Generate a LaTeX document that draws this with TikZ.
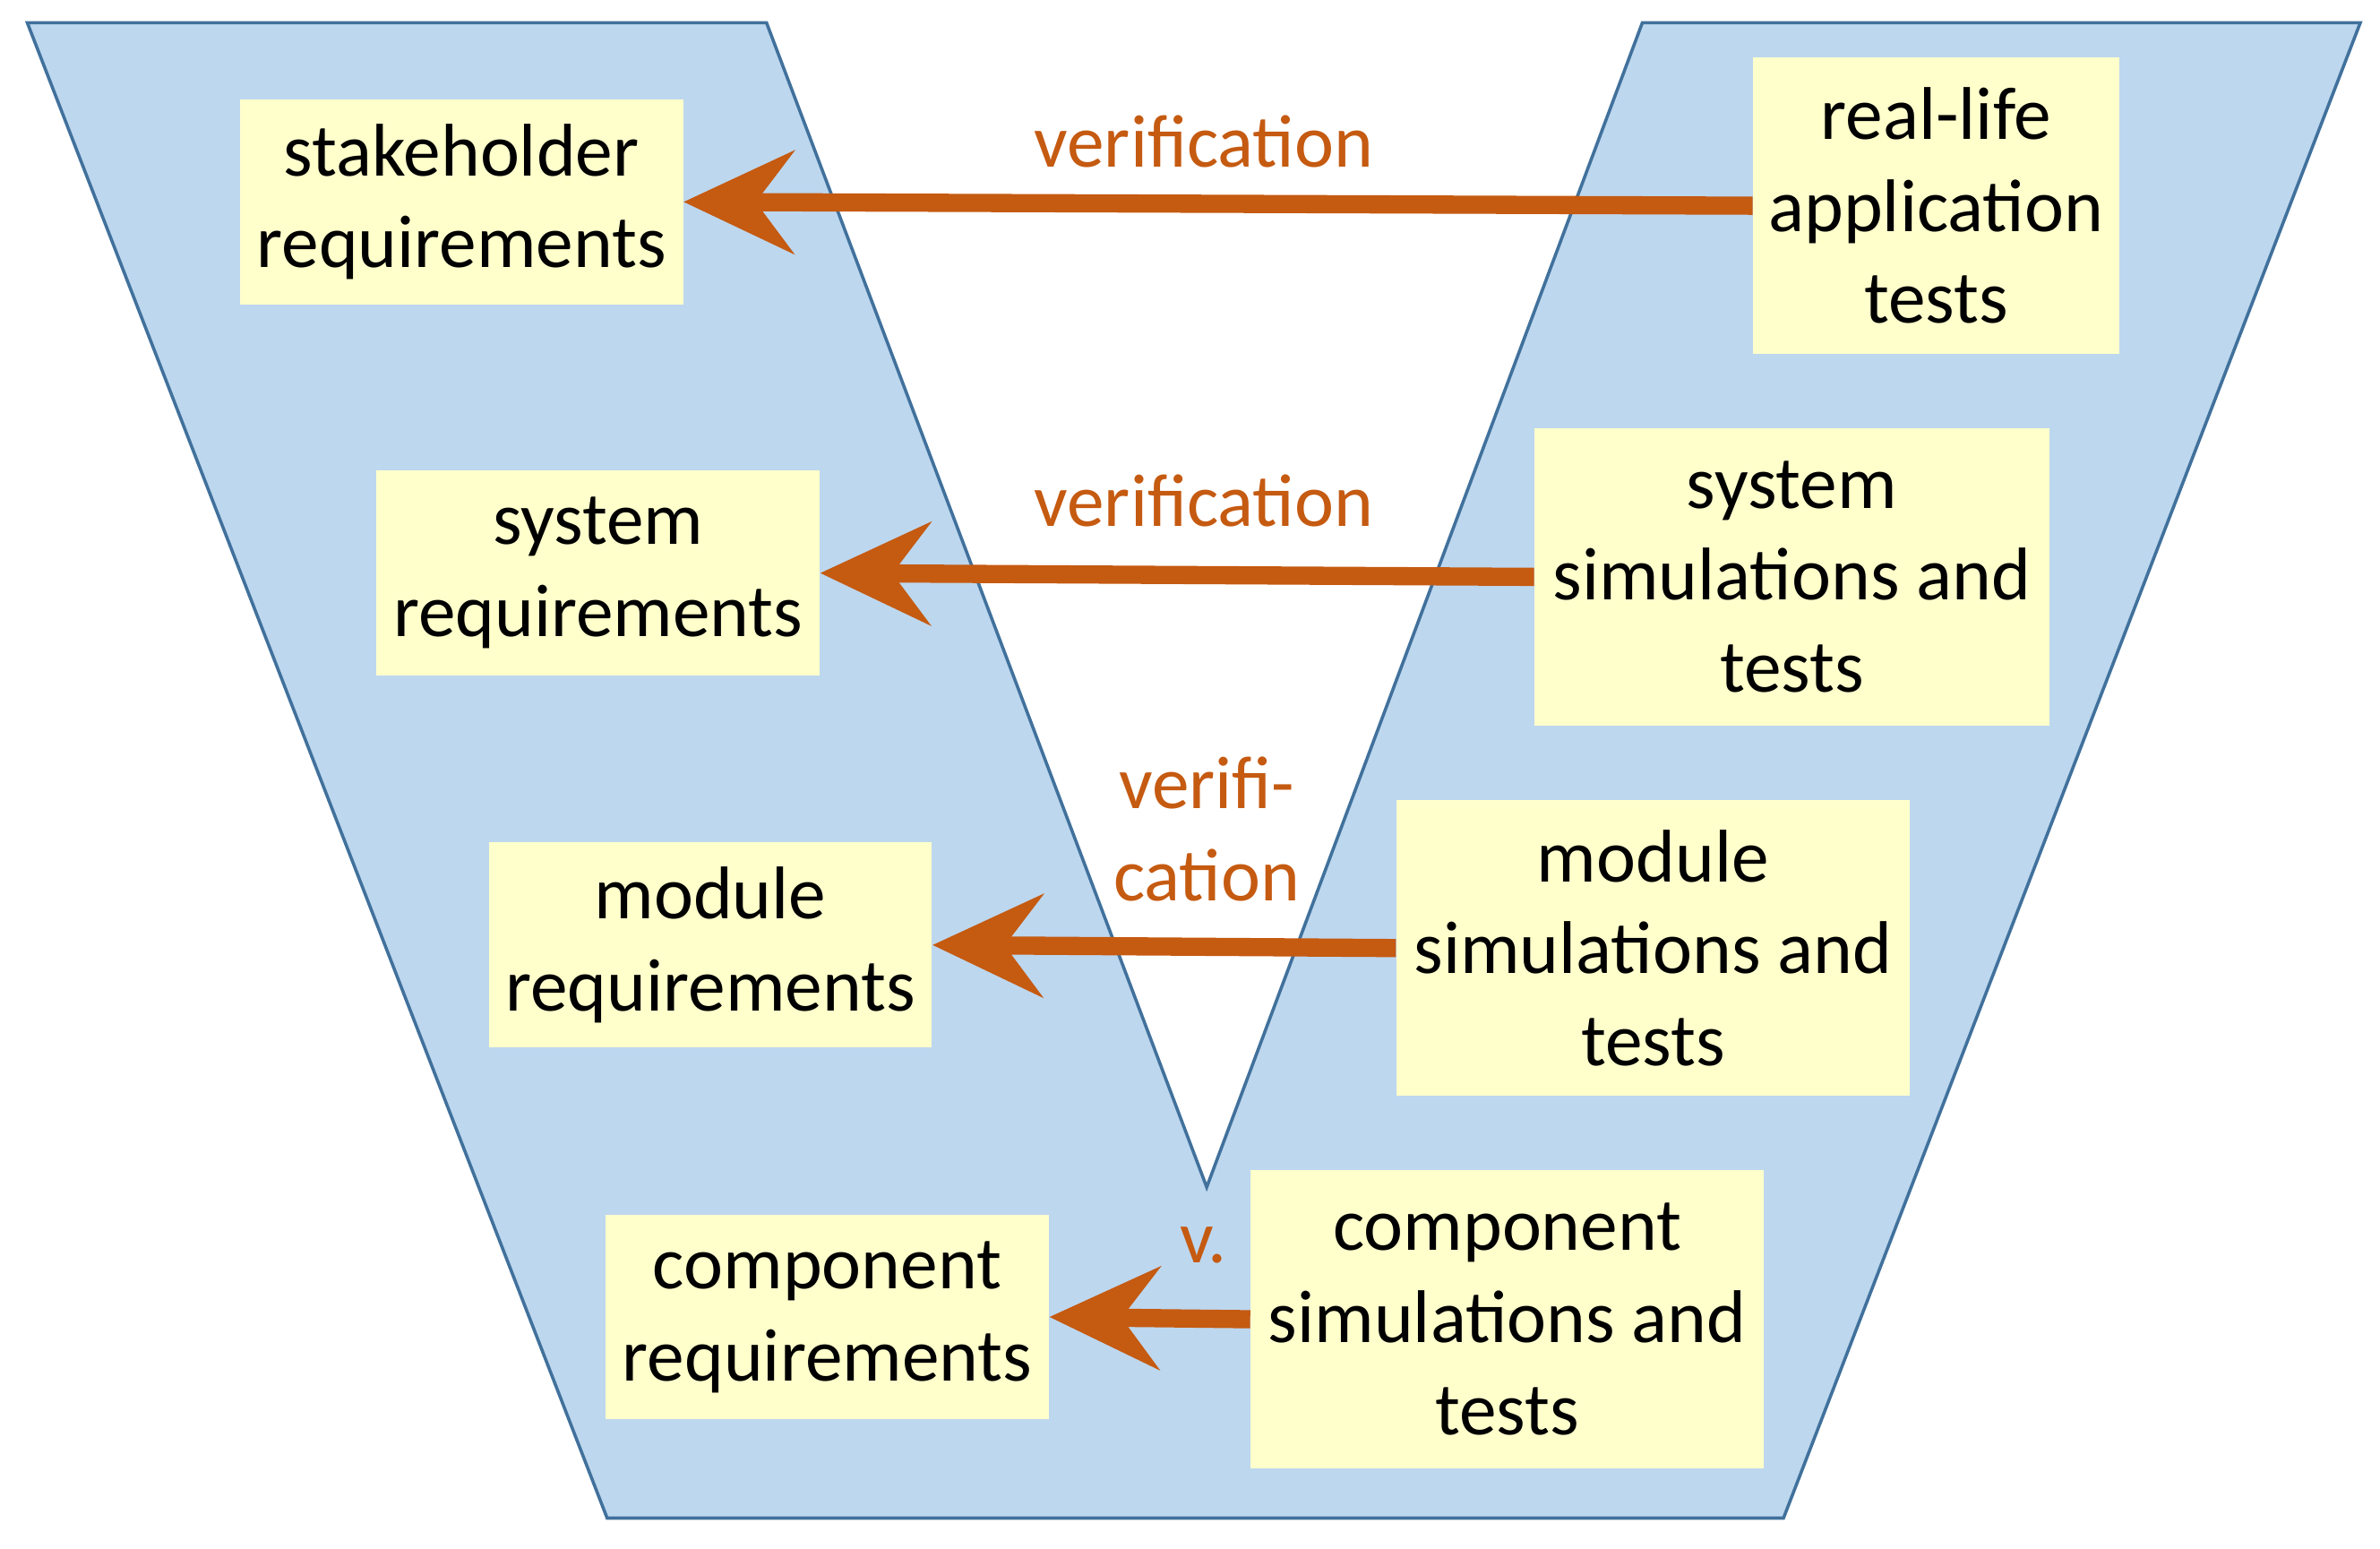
\documentclass[tikz,border=0pt]{standalone}
\usepackage{fontspec}
\setmainfont{Carlito}
\usetikzlibrary{arrows.meta}
\definecolor{vblue}{RGB}{189,215,238}
\definecolor{vedge}{RGB}{65,113,156}
\definecolor{boxy}{RGB}{255,255,204}
\definecolor{ora}{RGB}{197,90,17}
\begin{document}
\begin{tikzpicture}[x=0.02cm,y=-0.02cm,
  box/.style={fill=boxy,draw=none,align=center,inner sep=0pt,font=\fontsize{28}{34.5}\selectfont},
  ver/.style={draw=ora,line width=0.24cm,-{Stealth[length=1.45cm,width=1.35cm,inset=0.5cm]}},
  lab/.style={text=ora,font=\fontsize{28}{34.5}\selectfont,align=center}]
\useasboundingbox (0,0) rectangle (1568,1020);
\fill[vblue,draw=vedge,line width=1.2pt] (18,15) -- (505,15) -- (795,782) -- (1082,15) -- (1555,15) -- (1175,1000) -- (400,1000) -- cycle;
\node[box,minimum width=292*0.02cm,minimum height=135*0.02cm] (sh) at (304,133) {stakeholder\\requirements};
\node[box,minimum width=241*0.02cm,minimum height=195*0.02cm] (rl) at (1275.5,135.5) {real-life\\application\\tests};
\node[box,minimum width=292*0.02cm,minimum height=135*0.02cm] (sr) at (394,377.5) {system\\requirements};
\node[box,minimum width=339*0.02cm,minimum height=196*0.02cm] (ss) at (1180.5,380) {system\\simulations and\\tests};
\node[box,minimum width=292*0.02cm,minimum height=135*0.02cm] (mr) at (468,622.5) {module\\requirements};
\node[box,minimum width=338*0.02cm,minimum height=195*0.02cm] (ms) at (1089,624.5) {module\\simulations and\\tests};
\node[box,minimum width=292*0.02cm,minimum height=135*0.02cm] (cr) at (545,867.5) {component\\requirements};
\node[box,minimum width=338*0.02cm,minimum height=196*0.02cm] (cs) at (993,869) {component\\simulations and\\tests};
\draw[ver] (rl.west) -- (sh.east);
\draw[ver] (ss.west) -- (sr.east);
\draw[ver] (ms.west) -- (mr.east);
\draw[ver] (cs.west) -- (cr.east);
\node[lab] (l1) at (793,93) {verification};
\node[lab] (l2) at (793,330) {verification};
\node[lab] (l3) at (795,546) {verifi-\\cation};
\node[lab] (l4) at (793,820) {v.};
\end{tikzpicture}
\end{document}
